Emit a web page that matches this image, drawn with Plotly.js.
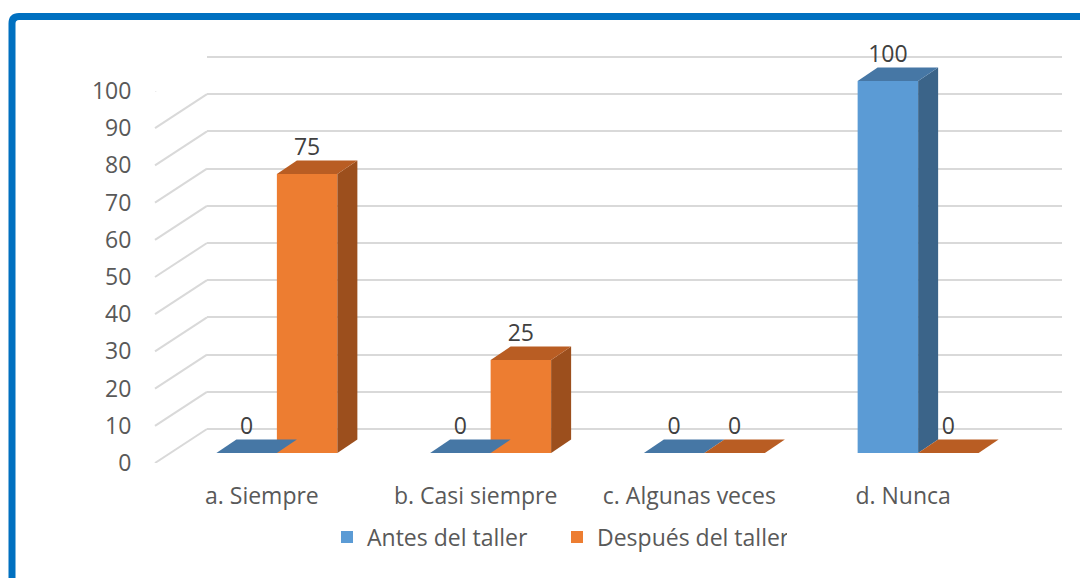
<!DOCTYPE html>
<html>
<head>
<meta charset="utf-8">
<script src="https://cdn.plot.ly/plotly-3.0.1.min.js"></script>
<style>html,body{margin:0;padding:0;background:#fff;}#chart{width:1080px;height:578px;}</style>
</head>
<body>
<div id="chart"></div>
<script>
// ---- data ----
const categories = ['a. Siempre', 'b. Casi siempre', 'c. Algunas veces', 'd. Nunca'];
const catIndex = [0, 1, 2, 3];
const antes = [0, 0, 0, 100];
const despues = [75, 25, 0, 0];
const seriesNames = ['Antes del taller', 'Después del taller'];
const yTicks = [0, 10, 20, 30, 40, 50, 60, 70, 80, 90, 100];

// ---- geometry / style ----
const W = 1080, H = 578;
const fx = p => p / W, fy = p => 1 - p / H;
const FRONT = {x0: 155, x1: 1010, yZero: 463, yTop: 91};
const BACK = {dx: 52, dy: -34};
const BARPLANE = {dx: 15, dy: -10};
const BOXDEPTH = {dx: 20, dy: -13.5};
const pxPerUnitY = (FRONT.yZero - FRONT.yTop) / 100;
const pxPerCat = (FRONT.x1 - FRONT.x0) / 4;
const BARGAP = 0.434;
const barW = (1 - BARGAP) / 2;
const depthX = BOXDEPTH.dx / pxPerCat;
const depthY = -BOXDEPTH.dy / pxPerUnitY;
const backUnitsY = -BACK.dy / pxPerUnitY;
const BACK_TOP = 105;
const BAR_TOP = 115;

const colors = {
  front: ['#5B9BD5', '#ED7D31'],
  top: ['#4677A5', '#B95D23'],
  side: ['#3B6489', '#9C4F1D']
};
const txt = '#595959';
const font = 'Open Sans, Noto Sans, sans-serif';
const fs = 23;

const seriesVals = [antes, despues];
const traces = [];

traces.push({x: [0], y: [0], xaxis: 'x', yaxis: 'y', mode: 'markers', marker: {opacity: 0}, showlegend: false, hoverinfo: 'skip'});
traces.push({x: [0], y: [0], xaxis: 'x2', yaxis: 'y2', mode: 'markers', marker: {opacity: 0}, showlegend: false, hoverinfo: 'skip'});

// front faces as bars
seriesVals.forEach((vals, s) => {
  traces.push({
    type: 'bar', x: catIndex, y: vals, name: seriesNames[s],
    xaxis: 'x3', yaxis: 'y3',
    marker: {color: colors.front[s], line: {width: 0}},
    hoverinfo: 'skip'
  });
});

// side and top faces
seriesVals.forEach((vals, s) => {
  vals.forEach((v, i) => {
    const L = catIndex[i] - barW + s * barW;
    const R = L + barW;
    traces.push({
      x: [R, R + depthX, R + depthX, R, R], y: [0, depthY, v + depthY, v, 0],
      xaxis: 'x3', yaxis: 'y3', mode: 'lines', fill: 'toself',
      fillcolor: colors.side[s], line: {width: 0, color: colors.side[s]},
      showlegend: false, hoverinfo: 'skip'
    });
    traces.push({
      x: [L, R, R + depthX, L + depthX, L], y: [v, v, v + depthY, v + depthY, v],
      xaxis: 'x3', yaxis: 'y3', mode: 'lines', fill: 'toself',
      fillcolor: colors.top[s], line: {width: 0, color: colors.top[s]},
      showlegend: false, hoverinfo: 'skip'
    });
  });
});
// data labels
seriesVals.forEach((vals, s) => {
  traces.push({
    x: catIndex.map(i => i - barW / 2 + s * barW),
    y: vals.map(v => v + depthY),
    text: vals.map(v => String(v)),
    mode: 'text', textposition: 'top center', cliponaxis: false,
    textfont: {family: font, size: fs, color: '#404040'},
    xaxis: 'x3', yaxis: 'y3', showlegend: false, hoverinfo: 'skip'
  });
});

// diagonal grid lines on the left wall
const shapes = yTicks.map(v => ({
  type: 'line', xref: 'paper', yref: 'y', layer: 'below',
  x0: fx(FRONT.x0), y0: v, x1: fx(FRONT.x0 + BACK.dx), y1: v + backUnitsY,
  line: {color: '#D9D9D9', width: 2}
}));
// outer blue frame with rounded corner
const fl = 12, ft = 16.5, rad = 7;
shapes.push({
  type: 'path', xref: 'paper', yref: 'paper', layer: 'above',
  path: `M ${fx(fl)},${fy(H + 20)} L ${fx(fl)},${fy(ft + rad)} Q ${fx(fl)},${fy(ft)} ${fx(fl + rad)},${fy(ft)} L ${fx(W + 20)},${fy(ft)}`,
  line: {color: '#0070C0', width: 7}
});

const layout = {
  width: W, height: H,
  margin: {l: 0, r: 0, t: 0, b: 0},
  paper_bgcolor: '#ffffff', plot_bgcolor: 'rgba(0,0,0,0)',
  font: {family: font, size: fs, color: txt},
  showlegend: true,
  legend: {orientation: 'h', x: fx(327), xanchor: 'left', y: fy(537), yanchor: 'middle',
           entrywidth: 185, entrywidthmode: 'pixels',
           font: {family: font, size: fs, color: txt}, traceorder: 'normal'},
  barmode: 'group', bargap: BARGAP, bargroupgap: 0,
  xaxis: {domain: [fx(FRONT.x0), fx(FRONT.x1)], range: [-0.5, 3.5], anchor: 'y',
          tickvals: catIndex, ticktext: categories, showgrid: false, zeroline: false, showline: false,
          ticks: 'outside', ticklen: 12, tickcolor: 'rgba(0,0,0,0)',
          tickfont: {family: font, size: fs, color: txt}, fixedrange: true},
  yaxis: {domain: [fy(FRONT.yZero), fy(FRONT.yTop)], range: [0, 100], anchor: 'x',
          tickvals: yTicks, showgrid: false, zeroline: false, showline: false,
          ticks: 'outside', ticklen: 18, tickcolor: 'rgba(0,0,0,0)',
          tickfont: {family: font, size: fs, color: txt}, fixedrange: true},
  xaxis2: {domain: [fx(FRONT.x0 + BACK.dx), fx(FRONT.x1 + BACK.dx)], range: [-0.5, 3.5], anchor: 'y2',
           showgrid: false, zeroline: false, showline: false, showticklabels: false, ticks: ''},
  yaxis2: {domain: [fy(FRONT.yZero + BACK.dy), fy(FRONT.yZero + BACK.dy - BACK_TOP * pxPerUnitY)],
           range: [0, BACK_TOP], anchor: 'x2',
           tickvals: yTicks, showgrid: true, gridcolor: '#D9D9D9', gridwidth: 2,
           zeroline: true, zerolinecolor: '#D9D9D9', zerolinewidth: 2,
           showline: false, showticklabels: false, ticks: ''},
  xaxis3: {domain: [fx(FRONT.x0 + BARPLANE.dx), fx(FRONT.x1 + BARPLANE.dx)], range: [-0.5, 3.5], anchor: 'y3',
           showgrid: false, zeroline: false, showline: false, showticklabels: false, ticks: ''},
  yaxis3: {domain: [fy(FRONT.yZero + BARPLANE.dy), fy(FRONT.yZero + BARPLANE.dy - BAR_TOP * pxPerUnitY)],
           range: [0, BAR_TOP], anchor: 'x3',
           showgrid: false, zeroline: false, showline: false, showticklabels: false, ticks: ''},
  shapes: shapes
};

Plotly.newPlot('chart', traces, layout, {displayModeBar: false, staticPlot: true});
</script>
</body>
</html>
